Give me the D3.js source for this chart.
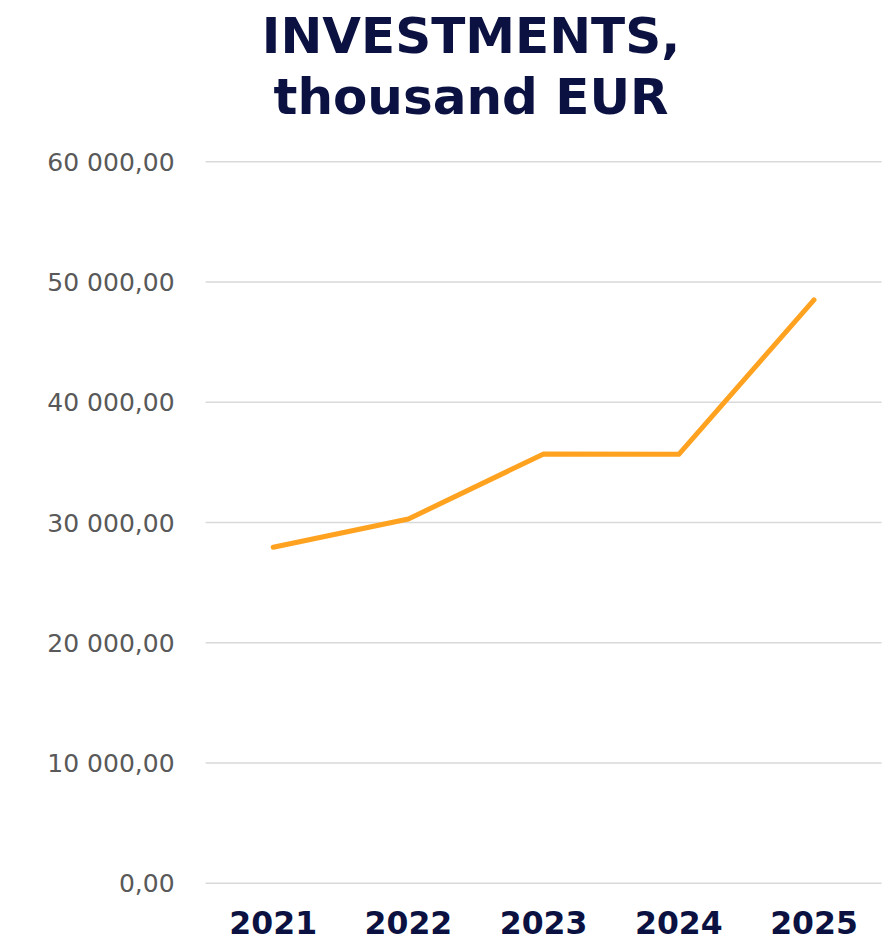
<!DOCTYPE html>
<html>
<head>
<meta charset="utf-8">
<script src="https://cdn.jsdelivr.net/npm/d3@7"></script>
<style>
  html, body { margin: 0; padding: 0; background: #ffffff; }
  svg { display: block; }
</style>
</head>
<body>
<svg id="chart" width="888" height="941"></svg>
<script>
// Annual investments, thousand EUR
const years = ["2021", "2022", "2023", "2024", "2025"];
const investments = [27900, 30250, 35660, 35630, 48470];
const yTicks = [0, 10000, 20000, 30000, 40000, 50000, 60000];
const titleLines = ["INVESTMENTS,", "thousand EUR"];

const width = 888, height = 941;
const margin = { top: 161.3, right: 6.4, bottom: 58.3, left: 205.6 };

const svg = d3.select("#chart");

const x = d3.scaleBand()
  .domain(years)
  .range([margin.left, width - margin.right])
  .padding(0);

const y = d3.scaleLinear()
  .domain([0, 60000])
  .range([height - margin.bottom, margin.top]);

const locale = d3.formatLocale({ decimal: ",", thousands: " ", grouping: [3], currency: ["", ""] });
const fmt = locale.format(",.2f");

// Title
svg.append("text")
  .attr("x", 471)
  .attr("text-anchor", "middle")
  .attr("font-family", "'DejaVu Sans', Verdana, sans-serif")
  .attr("font-weight", "bold")
  .attr("font-size", 50)
  .attr("fill", "#0b1241")
  .selectAll("tspan")
  .data(titleLines)
  .join("tspan")
  .attr("x", 471)
  .attr("y", (d, i) => 52.5 + i * 61)
  .text(d => d);

// Horizontal gridlines with value labels
const yAxis = d3.axisLeft(y)
  .tickValues(yTicks)
  .tickSize(-(width - margin.left - margin.right))
  .tickPadding(31)
  .tickFormat(fmt);

const gy = svg.append("g")
  .attr("transform", `translate(${margin.left},0)`)
  .call(yAxis);
gy.select(".domain").remove();
gy.selectAll(".tick line")
  .attr("stroke", "#d9d9d9")
  .attr("stroke-width", 1.5);
gy.selectAll(".tick text")
  .attr("fill", "#595959")
  .attr("font-family", "'DejaVu Sans', Verdana, sans-serif")
  .attr("font-size", 25)
  .attr("dy", "0.36em");

// Category labels
const xAxis = d3.axisBottom(x).tickSize(0).tickPadding(0);
const gx = svg.append("g")
  .attr("transform", `translate(0,${height - margin.bottom})`)
  .call(xAxis);
gx.select(".domain").remove();
gx.selectAll(".tick text")
  .attr("fill", "#0b1241")
  .attr("font-family", "'DejaVu Sans', Verdana, sans-serif")
  .attr("font-weight", "bold")
  .attr("font-size", 31.5)
  .attr("dy", null)
  .attr("y", 51.5);

// Investment line
const line = d3.line()
  .x((d, i) => x(years[i]) + x.bandwidth() / 2)
  .y(d => y(d));

svg.append("path")
  .datum(investments)
  .attr("fill", "none")
  .attr("stroke", "#ffa220")
  .attr("stroke-width", 5)
  .attr("stroke-linecap", "round")
  .attr("stroke-linejoin", "round")
  .attr("d", line);
</script>
</body>
</html>
